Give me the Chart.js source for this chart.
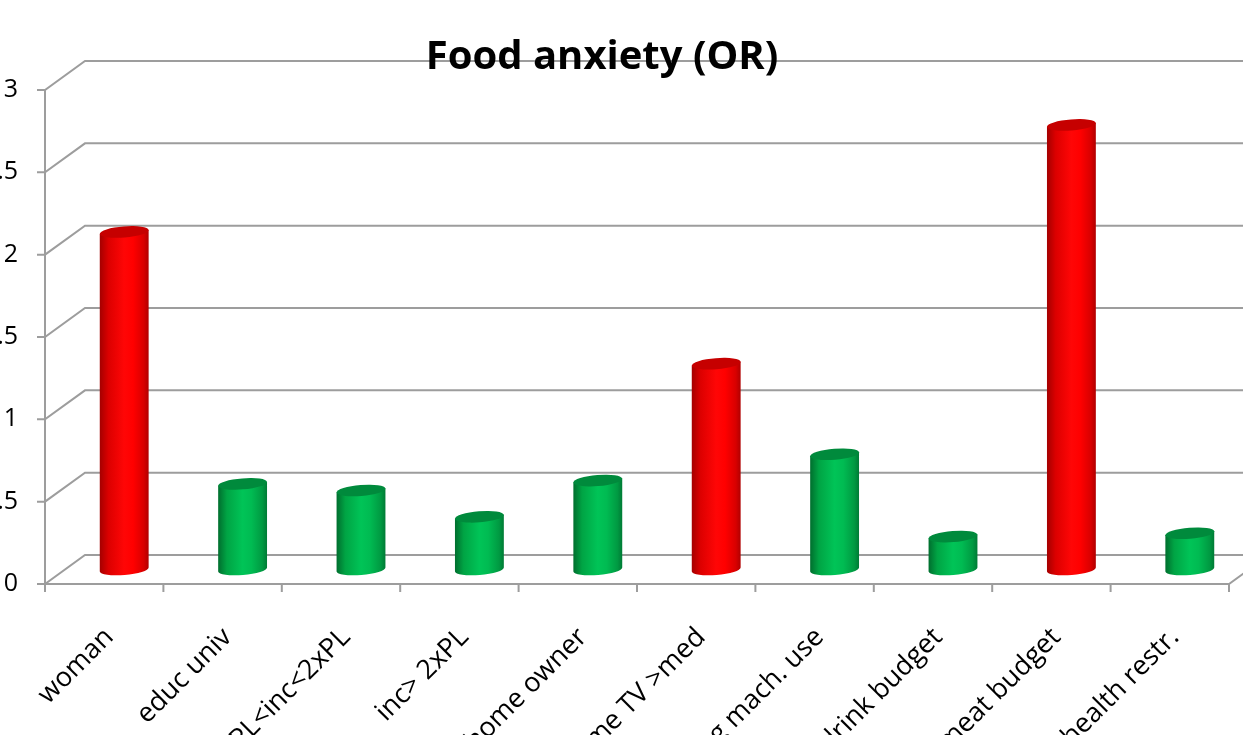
<!DOCTYPE html>
<html>
<head>
<meta charset="utf-8">
<script src="https://cdn.jsdelivr.net/npm/chart.js@4.4.1/dist/chart.umd.min.js"></script>
<style>
  html, body { margin: 0; padding: 0; background: #fff; overflow: hidden; }
  #wrap { position: absolute; left: 0; top: 0; width: 1243px; height: 735px; overflow: hidden; }
</style>
</head>
<body>
<div id="wrap"><canvas id="chart" width="1300" height="735"></canvas></div>
<script>
// Food anxiety odds ratios (3D cylinder look, Excel style)
const categories = ['woman', 'educ univ', 'PL<inc<2xPL', 'inc> 2xPL', 'home owner',
                    'time TV >med', 'washing mach. use', 'drink budget', 'meat budget', 'health restr.'];
const oddsRatios = [2.05, 0.52, 0.48, 0.32, 0.54, 1.25, 0.70, 0.20, 2.70, 0.22];
const yTicks = [0, 0.5, 1, 1.5, 2, 2.5, 3];
const chartTitle = 'Food anxiety (OR)';

// red when risk goes up, green when it goes down
const barColors = oddsRatios.map(v => v > 1 ? 'red' : 'green');

const PALETTE = {
  red: {
    body: [[0, '#a40000'], [0.18, '#dc0000'], [0.5, '#ff0606'], [0.68, '#ff0000'], [0.9, '#d80000'], [1, '#b00000']],
    top: '#c60000'
  },
  green: {
    body: [[0, '#006e2e'], [0.18, '#00a444'], [0.5, '#00c457'], [0.68, '#00bb52'], [0.9, '#009a42'], [1, '#007a35']],
    top: '#008a3c'
  }
};

// depth offset between middle plane (where the bars stand) and front / back walls
const DX = 20, DY = 14.5;
const GRID = '#9d9d9d';

function drawCylinder(ctx, cx, top, base, rx, pal) {
  const ry = 5.5, rot = -0.08;
  const ox = rx * Math.cos(rot), oy = rx * Math.sin(rot);
  const g = ctx.createLinearGradient(cx - rx, 0, cx + rx, 0);
  pal.body.forEach(([s, c]) => g.addColorStop(s, c));
  ctx.beginPath();
  ctx.moveTo(cx + ox, top + oy);
  ctx.lineTo(cx + ox, base + oy);
  ctx.ellipse(cx, base, rx, ry, rot, 0, Math.PI);
  ctx.lineTo(cx - ox, top - oy);
  ctx.closePath();
  ctx.fillStyle = g;
  ctx.fill();
  ctx.beginPath();
  ctx.ellipse(cx, top, rx, ry, rot, 0, 2 * Math.PI);
  ctx.fillStyle = pal.top;
  ctx.fill();
}

const frame3d = {
  id: 'frame3d',
  beforeDatasetsDraw(chart) {
    const ctx = chart.ctx;
    const { left, right, top, bottom } = chart.chartArea;
    const y = chart.scales.y;
    ctx.save();
    ctx.strokeStyle = GRID;
    ctx.lineWidth = 2;
    ctx.beginPath();
    y.ticks.forEach(t => {
      const py = y.getPixelForValue(t.value);
      // tick mark, side wall diagonal, back wall line
      ctx.moveTo(left - DX - 8, py + DY);
      ctx.lineTo(left - DX, py + DY);
      ctx.lineTo(left + DX, py - DY);
      ctx.lineTo(right + DX, py - DY);
    });
    // front vertical axis
    ctx.moveTo(left - DX, top + DY);
    ctx.lineTo(left - DX, bottom + DY);
    // front floor edge + right diagonal
    ctx.lineTo(right - DX, bottom + DY);
    ctx.lineTo(right + DX, bottom - DY);
    // category ticks
    const n = categories.length;
    for (let i = 0; i <= n; i++) {
      const px = left - DX + i * (right - left) / n;
      ctx.moveTo(px, bottom + DY);
      ctx.lineTo(px, bottom + DY + 8);
    }
    ctx.stroke();
    ctx.restore();
  },
  afterDraw(chart) {
    const ctx = chart.ctx;
    ctx.save();
    ctx.font = 'bold 40px "Open Sans"';
    ctx.fillStyle = '#000';
    ctx.textAlign = 'center';
    ctx.textBaseline = 'middle';
    ctx.fillText(chartTitle, 602, 58);
    ctx.restore();
  }
};

const cylinders = {
  id: 'cylinders',
  beforeDatasetDraw(chart, args) {
    const ctx = chart.ctx;
    args.meta.data.forEach((bar, i) => {
      const p = bar.getProps(['x', 'y', 'base', 'width'], true);
      drawCylinder(ctx, p.x, p.y, p.base, p.width / 2, PALETTE[barColors[i]]);
    });
    return false;
  }
};

new Chart(document.getElementById('chart'), {
  type: 'bar',
  data: {
    labels: categories,
    datasets: [{
      data: oddsRatios,
      backgroundColor: barColors,
      categoryPercentage: 1,
      barPercentage: 0.414
    }]
  },
  plugins: [frame3d, cylinders],
  options: {
    responsive: false,
    animation: false,
    events: [],
    layout: { padding: { top: 75.5, right: 51, left: 0, bottom: 0 } },
    plugins: { legend: { display: false }, tooltip: { enabled: false }, title: { display: false } },
    scales: {
      x: {
        grid: { display: false, drawTicks: false },
        border: { display: false },
        ticks: {
          autoSkip: false, minRotation: 45, maxRotation: 45,
          padding: 52, labelOffset: -15,
          color: '#000', font: { family: 'Open Sans', size: 27 }
        },
        afterFit: s => { s.height = 735 - 569.5; }
      },
      y: {
        min: yTicks[0], max: yTicks[yTicks.length - 1],
        grid: { display: false, drawTicks: false },
        border: { display: false },
        ticks: {
          stepSize: 0.5, padding: 47, labelOffset: DY,
          color: '#000', font: { family: 'Open Sans', size: 25 },
          callback: v => String(v)
        },
        afterFit: s => { s.width = 65; }
      }
    }
  }
});
</script>
</body>
</html>
